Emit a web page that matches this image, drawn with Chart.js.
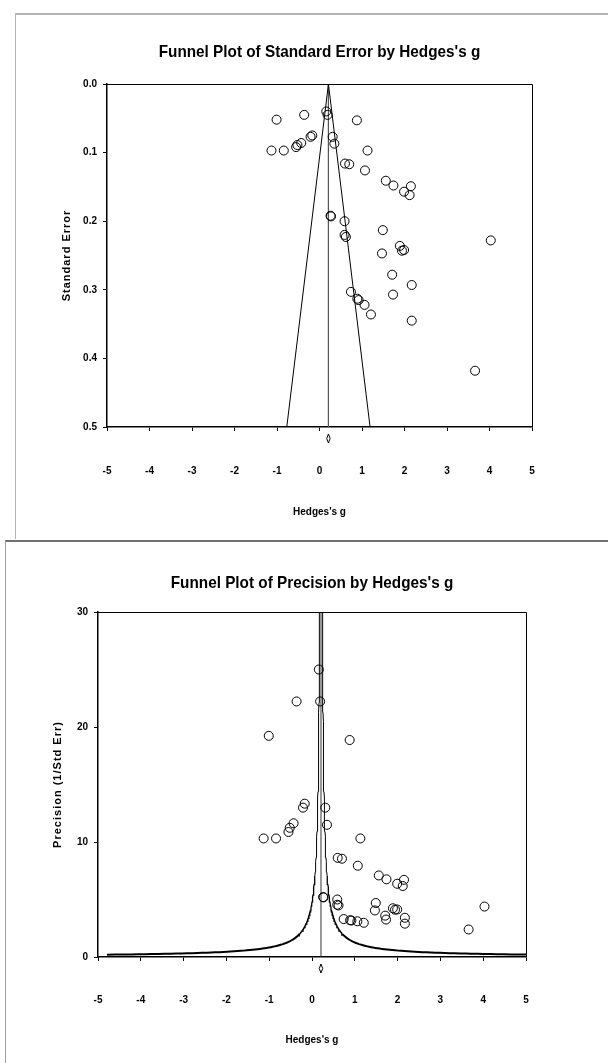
<!DOCTYPE html>
<html>
<head>
<meta charset="utf-8">
<script src="https://cdn.jsdelivr.net/npm/chart.js@4.4.0/dist/chart.umd.min.js"></script>
<style>
  html, body { margin: 0; padding: 0; background: #fff; }
  body { width: 608px; height: 1063px; position: relative; overflow: hidden; }
  .panel { position: absolute; box-sizing: border-box; }
  #panelTop { left: 15px; top: 13px; width: 593px; height: 526px; border-top: 2px solid #b4b4b4; border-left: 1px solid #b4b4b4; }
  #panelBottom { left: 5px; top: 540px; width: 603px; height: 523px; border-top: 2px solid #707070; border-left: 1px solid #a0a0a0; }
  canvas { position: absolute; left: 0; }
  #seChart { top: 0; }
  #precChart { top: 541px; }
</style>
</head>
<body>
<div class="panel" id="panelTop"></div>
<div class="panel" id="panelBottom"></div>
<canvas id="seChart" width="608" height="540"></canvas>
<canvas id="precChart" width="608" height="522"></canvas>
<script>
// ---------- DATA ----------
// one entry per study: effect size and its standard error
const hedgesG = [-1.13, -1.01, -0.84, -0.55, -0.52, -0.43, -0.36, -0.21, -0.17,
  0.16, 0.19, 0.31, 0.35, 0.88, 1.13, 0.60, 0.70, 1.07, 1.56, 1.74, 1.99, 2.15, 2.12,
  0.26, 0.27, 0.59, 0.59, 0.62, 1.49, 1.47, 1.89, 1.94, 1.99, 4.03, 1.71, 2.17,
  0.74, 0.89, 0.92, 1.06, 1.21, 1.73, 2.17, 3.66];
const stdErr = [0.097, 0.052, 0.097, 0.092, 0.089, 0.086, 0.045, 0.077, 0.075,
  0.040, 0.045, 0.077, 0.087, 0.053, 0.097, 0.116, 0.117, 0.126, 0.141, 0.148, 0.157, 0.149, 0.162,
  0.192, 0.193, 0.200, 0.220, 0.223, 0.213, 0.247, 0.236, 0.243, 0.242, 0.228, 0.278, 0.293,
  0.303, 0.313, 0.315, 0.322, 0.336, 0.307, 0.345, 0.418];

// summary effect (diamond under the axis)
const summaryG = 0.21;
const summaryLow = 0.17;
const summaryHigh = 0.25;

const xTicks = [-5, -4, -3, -2, -1, 0, 1, 2, 3, 4, 5];
const seTicks = [0.0, 0.1, 0.2, 0.3, 0.4, 0.5];
const precTicks = [0, 10, 20, 30];

const FONT = '"Liberation Sans", Arial, Helvetica, sans-serif';

// ---------- helpers ----------
const studyPointsSE = hedgesG.map((g, i) => ({ x: g, y: stdErr[i] }));
const studyPointsPrec = hedgesG.map((g, i) => ({ x: g, y: 1 / stdErr[i] }));

// funnel limits for the precision plot
const precLevels = [];
for (let p = 0.2; p <= 30.01; p *= 1.04) precLevels.push(p);
precLevels.push(30);

// titles, frame and summary diamond
const panelText = {
  id: 'panelText',
  afterDraw(chart, args, opts) {
    const { ctx, chartArea } = chart;
    const cx = (chartArea.left + chartArea.right) / 2;
    const cy = (chartArea.top + chartArea.bottom) / 2;

    // frame
    ctx.save();
    ctx.strokeStyle = '#000';
    ctx.lineWidth = 1;
    ctx.beginPath();
    ctx.moveTo(chartArea.left, chartArea.top + 0.5);
    ctx.lineTo(chartArea.right + 0.5, chartArea.top + 0.5);
    ctx.lineTo(chartArea.right + 0.5, chartArea.bottom);
    ctx.stroke();
    ctx.restore();

    // title
    ctx.save();
    ctx.fillStyle = '#000';
    ctx.textAlign = 'center';
    ctx.textBaseline = 'middle';
    ctx.font = 'bold 17px ' + FONT;
    ctx.translate(cx, opts.titleY);
    ctx.scale(0.9, 1);
    ctx.fillText(opts.title, 0, 0);
    ctx.restore();

    // y axis title
    ctx.save();
    ctx.fillStyle = '#000';
    ctx.textAlign = 'center';
    ctx.textBaseline = 'middle';
    ctx.font = 'bold 11px ' + FONT;
    ctx.letterSpacing = '1px';
    ctx.translate(opts.yTitleX, cy);
    ctx.rotate(-Math.PI / 2);
    ctx.fillText(opts.yTitle, 0, 0);
    ctx.restore();

    // diamond
    const xs = chart.scales.x;
    const xl = xs.getPixelForValue(summaryLow);
    const xm = xs.getPixelForValue(summaryG);
    const xh = xs.getPixelForValue(summaryHigh);
    const yd = chartArea.bottom + 11.5;
    ctx.save();
    ctx.strokeStyle = '#000';
    ctx.lineWidth = 1;
    ctx.beginPath();
    ctx.moveTo(xl, yd);
    ctx.lineTo(xm, yd - 4.5);
    ctx.lineTo(xh, yd);
    ctx.lineTo(xm, yd + 4.5);
    ctx.closePath();
    ctx.stroke();
    ctx.restore();
  }
};

function xScale(height, pad) {
  return {
    type: 'linear',
    min: -5,
    max: 5,
    afterBuildTicks: s => { s.ticks = xTicks.map(v => ({ value: v })); },
    afterFit: s => { s.height = height; },
    grid: { display: true, drawOnChartArea: false, tickLength: 4, color: '#000' },
    border: { color: '#000', width: 1.5 },
    ticks: { color: '#000', padding: pad, font: { family: FONT, size: 10, weight: 'bold' } },
    title: {
      display: true, text: "Hedges's g", color: '#000',
      padding: { top: 4, bottom: 4 },
      font: { family: FONT, size: 10, weight: 'bold' }
    }
  };
}

const pointStyle = {
  pointStyle: 'circle',
  pointRadius: 4.5,
  pointBorderWidth: 1,
  pointBorderColor: '#000',
  pointBackgroundColor: 'rgba(0,0,0,0)',
  showLine: false
};

// thick near the axis, thin where the limits close in
const limitSegment = {
  borderWidth: c => {
    const p = c.p0.parsed.y;
    return p < 2 ? 2 : p < 4 ? 1.6 : p < 7 ? 1.3 : 1;
  }
};

// ---------- STANDARD ERROR CHART ----------
new Chart(document.getElementById('seChart'), {
  type: 'scatter',
  data: {
    datasets: [
      Object.assign({ label: 'Studies', data: studyPointsSE }, pointStyle),
      {
        label: 'Funnel',
        data: [{ x: summaryG - 1.96 * 0.5, y: 0.5 }, { x: summaryG, y: 0 }, { x: summaryG + 1.96 * 0.5, y: 0.5 }],
        showLine: true, pointRadius: 0, borderColor: '#000', borderWidth: 1
      },
      {
        label: 'Summary',
        data: [{ x: summaryG, y: 0 }, { x: summaryG, y: 0.5 }],
        showLine: true, pointRadius: 0, borderColor: '#555', borderWidth: 1
      }
    ]
  },
  options: {
    responsive: false,
    animation: false,
    layout: { padding: { left: 57, right: 76, top: 84, bottom: 18 } },
    plugins: {
      legend: { display: false },
      tooltip: { enabled: false },
      panelText: {
        title: 'Funnel Plot of Standard Error by Hedges\'s g',
        titleY: 52,
        yTitle: 'Standard Error',
        yTitleX: 67
      }
    },
    scales: {
      x: xScale(95, 34),
      y: {
        type: 'linear',
        reverse: true,
        min: 0,
        max: 0.5,
        afterBuildTicks: s => { s.ticks = seTicks.map(v => ({ value: v })); },
        afterFit: s => { s.width = 50; },
        grid: { display: true, drawOnChartArea: false, tickLength: 4, color: '#000' },
        border: { color: '#000', width: 1.5 },
        ticks: {
          color: '#000', padding: 6,
          font: { family: FONT, size: 10, weight: 'bold' },
          callback: v => v.toFixed(1)
        }
      }
    }
  },
  plugins: [panelText]
});

// ---------- PRECISION CHART ----------
new Chart(document.getElementById('precChart'), {
  type: 'scatter',
  data: {
    datasets: [
      Object.assign({ label: 'Studies', data: studyPointsPrec }, pointStyle),
      {
        label: 'Lower limit',
        data: precLevels.map(p => ({ x: summaryG - 1 / p, y: p })),
        showLine: true, pointRadius: 0, borderColor: '#000', borderWidth: 2,
        segment: limitSegment
      },
      {
        label: 'Upper limit',
        data: precLevels.map(p => ({ x: summaryG + 1 / p, y: p })),
        showLine: true, pointRadius: 0, borderColor: '#000', borderWidth: 2,
        segment: limitSegment
      },
      {
        label: 'Summary',
        data: [{ x: summaryG, y: 0 }, { x: summaryG, y: 30 }],
        showLine: true, pointRadius: 0, borderColor: '#333', borderWidth: 1
      }
    ]
  },
  options: {
    responsive: false,
    animation: false,
    layout: { padding: { left: 40, right: 82, top: 71, bottom: 13 } },
    plugins: {
      legend: { display: false },
      tooltip: { enabled: false },
      panelText: {
        title: 'Funnel Plot of Precision by Hedges\'s g',
        titleY: 42,
        yTitle: 'Precision (1/Std Err)',
        yTitleX: 58
      }
    },
    scales: {
      x: xScale(93, 33),
      y: {
        type: 'linear',
        min: 0,
        max: 30,
        afterBuildTicks: s => { s.ticks = precTicks.map(v => ({ value: v })); },
        afterFit: s => { s.width = 58; },
        grid: { display: true, drawOnChartArea: false, tickLength: 4, color: '#000' },
        border: { color: '#000', width: 1.5 },
        ticks: { color: '#000', padding: 6, font: { family: FONT, size: 10, weight: 'bold' } }
      }
    }
  },
  plugins: [panelText]
});
</script>
</body>
</html>
